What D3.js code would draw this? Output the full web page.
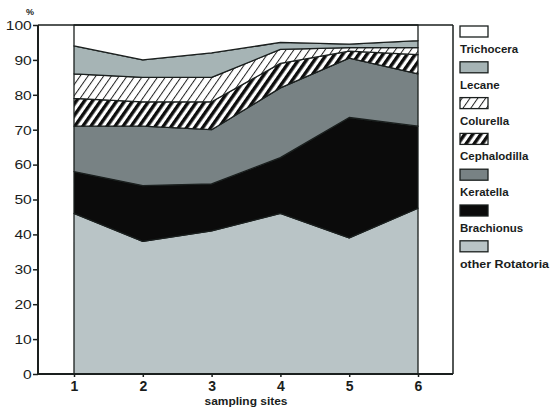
<!DOCTYPE html>
<html>
<head>
<meta charset="utf-8">
<script src="https://cdn.jsdelivr.net/npm/d3@7"></script>
<style>
  html, body { margin: 0; padding: 0; background: #fff; }
  svg { display: block; }
  text { font-family: "Liberation Sans", Arial, Helvetica, sans-serif; fill: #1a1d1c; }
</style>
</head>
<body>
<svg id="chart" width="550" height="414"></svg>
<script>
// Sampling sites along the x axis
const sites = [1, 2, 3, 4, 5, 6];

// Percentage share of each rotifer taxon per site (stacked bottom-up)
const otherRotatoria = [46, 38, 41, 46, 39, 47.5];
const brachionus     = [12, 16, 13.5, 16, 34.5, 23.5];
const keratella      = [13, 17, 15.5, 20, 17, 15];
const cephalodilla   = [8, 7, 8, 7, 2, 5.5];
const colurella      = [7, 7, 7, 4, 1, 2];
const lecane         = [8, 5, 7, 2, 1, 2];
const trichocera     = [6, 10, 8, 5, 5.5, 4.5];

// Stack order, bottom to top
const taxa = ["other Rotatoria", "Brachionus", "Keratella", "Cephalodilla", "Colurella", "Lecane", "Trichocera"];
const seriesValues = [otherRotatoria, brachionus, keratella, cephalodilla, colurella, lecane, trichocera];

// Legend order, top to bottom
const legendOrder = ["Trichocera", "Lecane", "Colurella", "Cephalodilla", "Keratella", "Brachionus", "other Rotatoria"];

const yTicks = [0, 10, 20, 30, 40, 50, 60, 70, 80, 90, 100];

const ink = "#1a1f1e";

const svg = d3.select("#chart");

// Hatch patterns
const defs = svg.append("defs");
const thin = defs.append("pattern")
  .attr("id", "hatchThin")
  .attr("patternUnits", "userSpaceOnUse")
  .attr("width", 6.4).attr("height", 6.4)
  .attr("patternTransform", "rotate(35)");
thin.append("rect").attr("width", 6.4).attr("height", 6.4).attr("fill", "#fff");
thin.append("rect").attr("x", 0).attr("width", 1).attr("height", 6.4).attr("fill", "#222");

const bold = defs.append("pattern")
  .attr("id", "hatchBold")
  .attr("patternUnits", "userSpaceOnUse")
  .attr("width", 6.6).attr("height", 6.6)
  .attr("patternTransform", "rotate(35)");
bold.append("rect").attr("width", 6.6).attr("height", 6.6).attr("fill", "#fff");
bold.append("rect").attr("x", 0).attr("width", 3.4).attr("height", 6.6).attr("fill", "#0d0d0d");

const fills = {
  "other Rotatoria": "#b9c4c6",
  "Brachionus": "#0b0b0b",
  "Keratella": "#788284",
  "Cephalodilla": "url(#hatchBold)",
  "Colurella": "url(#hatchThin)",
  "Lecane": "#a6b4b5",
  "Trichocera": "#ffffff"
};

// Scales
const x = d3.scaleLinear().domain([1, 6]).range([74, 418]);
const y = d3.scaleLinear().domain([0, 100]).range([374, 25]);

// Build stacked table
const table = sites.map((s, i) => {
  const row = { site: s };
  taxa.forEach((t, k) => { row[t] = seriesValues[k][i]; });
  return row;
});
const stacked = d3.stack().keys(taxa)(table);

const area = d3.area()
  .x(d => x(d.data.site))
  .y0(d => y(d[0]))
  .y1(d => y(d[1]));

svg.append("g")
  .selectAll("path")
  .data(stacked)
  .join("path")
  .attr("d", area)
  .attr("fill", d => fills[d.key])
  .attr("stroke", ink)
  .attr("stroke-width", 1.3)
  .attr("stroke-linejoin", "round");

// Frame
const frameLeft = 38, frameRight = 453;
svg.append("line").attr("x1", frameLeft).attr("x2", frameRight)
  .attr("y1", y(100)).attr("y2", y(100)).attr("stroke", ink).attr("stroke-width", 1.5);
svg.append("line").attr("x1", frameRight).attr("x2", frameRight)
  .attr("y1", y(100)).attr("y2", y(0)).attr("stroke", ink).attr("stroke-width", 1.5);
svg.append("line").attr("x1", frameLeft).attr("x2", frameRight)
  .attr("y1", y(0)).attr("y2", y(0)).attr("stroke", ink).attr("stroke-width", 2);
svg.append("line").attr("x1", frameLeft).attr("x2", frameLeft)
  .attr("y1", y(100)).attr("y2", y(0)).attr("stroke", ink).attr("stroke-width", 2);

// Y axis
const yAxis = svg.append("g")
  .attr("transform", `translate(${frameLeft},0)`)
  .call(d3.axisLeft(y).tickValues(yTicks).tickSize(5).tickSizeOuter(0));
yAxis.select(".domain").remove();
yAxis.selectAll(".tick line").attr("stroke", ink).attr("stroke-width", 1.5);
yAxis.selectAll(".tick text")
  .attr("x", -4.8)
  .attr("dy", "0.36em")
  .attr("transform", "scale(1.3,1)")
  .style("font-size", "12px")
  .style("fill", "#1a1d1c");

svg.append("text")
  .attr("x", 30).attr("y", 15)
  .attr("text-anchor", "middle")
  .style("font-size", "9px")
  .style("font-weight", "bold")
  .text("%");

// X axis
const xAxis = svg.append("g")
  .attr("transform", `translate(0,${y(0)})`)
  .call(d3.axisBottom(x).tickValues(sites).tickFormat(d3.format("d")).tickSize(3).tickSizeOuter(0));
xAxis.select(".domain").remove();
xAxis.selectAll(".tick line").attr("stroke", ink).attr("stroke-width", 1.5);
xAxis.selectAll(".tick text")
  .attr("y", 17)
  .attr("dy", 0)
  .style("font-size", "14px")
  .style("font-weight", "bold")
  .style("fill", "#1a1d1c");

svg.append("text")
  .attr("x", (x(1) + x(6)) / 2)
  .attr("y", 405)
  .attr("text-anchor", "middle")
  .style("font-size", "11px")
  .style("font-weight", "bold")
  .attr("textLength", 83)
  .attr("lengthAdjust", "spacingAndGlyphs")
  .text("sampling sites");

// Legend
const legend = svg.append("g").attr("transform", "translate(460,0)");
legendOrder.forEach((name, i) => {
  const top = 26 + i * 35.8;
  legend.append("rect")
    .attr("x", 0).attr("y", top)
    .attr("width", 28).attr("height", 11)
    .attr("fill", fills[name])
    .attr("stroke", ink)
    .attr("stroke-width", 1.3);
  legend.append("text")
    .attr("x", 0).attr("y", top + 27)
    .style("font-size", "11.5px")
    .style("font-weight", "bold")
    .attr("textLength", name === "other Rotatoria" ? 89 : null)
    .attr("lengthAdjust", "spacingAndGlyphs")
    .text(name);
});
</script>
</body>
</html>
